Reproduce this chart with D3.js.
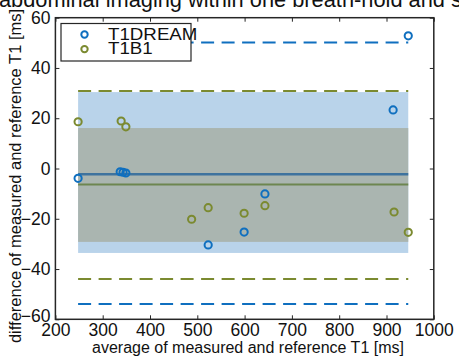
<!DOCTYPE html>
<html>
<head>
<meta charset="utf-8">
<script src="https://cdn.jsdelivr.net/npm/d3@7"></script>
<style>
  body { margin: 0; background: #fff; }
  text { font-family: "Liberation Sans", Arial, sans-serif; }
</style>
</head>
<body>
<svg id="chart" width="459" height="356"></svg>
<script>
// values
let seriesNames = ["T1DREAM", "T1B1"];
let avgDream = [248, 337, 343, 349, 523, 599, 643, 914, 946];
let diffDream = [-3.9, -1.3, -1.5, -1.8, -30.4, -25.3, -10.1, 23.3, 52.8];
let avgB1 = [248, 339, 349, 488, 523, 599, 643, 916, 946];
let diffB1 = [18.6, 18.9, 16.6, -20.2, -15.6, -17.8, -14.8, -17.3, -25.4];
let meanDiff = [-2.3, -6.4];
let limitsUpper = [50.1, 30.8];
let limitsLower = [-53.9, -44];
let bandUpper = [30.4, 16.1];
let bandLower = [-33.6, -29.2];
let lineSpan = [248, 946];
let xTicks = [200, 300, 400, 500, 600, 700, 800, 900, 1000];
let yTicks = [-60, -40, -20, 0, 20, 40, 60];

let colBlue = "#0f6fbf";
let colOlive = "#7b8a30";
let bandColors = ["#b9d3ea", "#aab5b0"];
let meanColors = ["#3e739e", "#6d8650"];

let svg = d3.select("#chart");
let mLeft = 55.4, mRight = 433.8, mTop = 17.7, mBottom = 319.3;

let x = d3.scaleLinear().domain([200, 1000]).range([mLeft, mRight]);
let y = d3.scaleLinear().domain([-60, 60]).range([mBottom, mTop]);

// cut-off caption line at the very top
svg.append("text")
  .attr("x", -1)
  .attr("y", 7)
  .style("font-size", "21.8px")
  .attr("fill", "#111")
  .text("abdominal imaging within one breath-hold and s");

let plot = svg.append("g");

// shaded bands
[0, 1].forEach(function (i) {
  plot.append("rect")
    .attr("x", x(lineSpan[0]))
    .attr("width", x(lineSpan[1]) - x(lineSpan[0]))
    .attr("y", y(bandUpper[i]))
    .attr("height", y(bandLower[i]) - y(bandUpper[i]))
    .attr("fill", bandColors[i]);
});

// limits of agreement (dashed)
let dashCols = [colBlue, colOlive];
[0, 1].forEach(function (i) {
  [limitsUpper[i], limitsLower[i]].forEach(function (v) {
    plot.append("line")
      .attr("x1", x(lineSpan[0]))
      .attr("x2", x(lineSpan[1]))
      .attr("y1", y(v))
      .attr("y2", y(v))
      .attr("stroke", dashCols[i])
      .attr("stroke-width", 2)
      .attr("stroke-dasharray", "13,7.5");
  });
});

// mean lines
[1, 0].forEach(function (i) {
  plot.append("line")
    .attr("x1", x(lineSpan[0]))
    .attr("x2", x(lineSpan[1]))
    .attr("y1", y(meanDiff[i]))
    .attr("y2", y(meanDiff[i]))
    .attr("stroke", meanColors[i])
    .attr("stroke-width", i == 0 ? 2.5 : 2);
});

// points
let pts = [
  { xs: avgB1, ys: diffB1, col: colOlive },
  { xs: avgDream, ys: diffDream, col: colBlue }
];
pts.forEach(function (s) {
  plot.selectAll(null)
    .data(s.xs)
    .enter()
    .append("circle")
    .attr("cx", function (d) { return x(d); })
    .attr("cy", function (d, i) { return y(s.ys[i]); })
    .attr("r", 3.6)
    .attr("fill", "none")
    .attr("stroke", s.col)
    .attr("stroke-width", 2);
});

// axes box with inward ticks
let axCol = "#262626";
let fmt = d3.format("d");
svg.append("g")
  .attr("transform", `translate(0,${mBottom})`)
  .call(d3.axisBottom(x).tickValues(xTicks).tickFormat(fmt).tickSizeInner(-4).tickSizeOuter(0).tickPadding(4))
  .call(function (g) {
    g.select(".domain").remove();
    g.selectAll("text").style("font-size", "17.5px").attr("fill", "#111");
    g.selectAll("line").attr("stroke", axCol);
  });
svg.append("g")
  .attr("transform", `translate(0,${mTop})`)
  .call(d3.axisTop(x).tickValues(xTicks).tickSizeInner(-4).tickSizeOuter(0).tickFormat(""))
  .call(function (g) {
    g.select(".domain").remove();
    g.selectAll("line").attr("stroke", axCol);
  });
svg.append("g")
  .attr("transform", `translate(${mLeft},0)`)
  .call(d3.axisLeft(y).tickValues(yTicks).tickFormat(fmt).tickSizeInner(-4).tickSizeOuter(0).tickPadding(5))
  .call(function (g) {
    g.select(".domain").remove();
    g.selectAll("text").style("font-size", "17.5px").attr("fill", "#111");
    // lowest label sits a touch higher, clear of "200"
    g.selectAll("text").filter(function (d) { return d == -60; }).attr("dy", "0.12em");
    g.selectAll("line").attr("stroke", axCol);
  });
svg.append("g")
  .attr("transform", `translate(${mRight},0)`)
  .call(d3.axisRight(y).tickValues(yTicks).tickSizeInner(-4).tickSizeOuter(0).tickFormat(""))
  .call(function (g) {
    g.select(".domain").remove();
    g.selectAll("line").attr("stroke", axCol);
  });
svg.append("rect")
  .attr("x", mLeft)
  .attr("y", mTop)
  .attr("width", mRight - mLeft)
  .attr("height", mBottom - mTop)
  .attr("fill", "none")
  .attr("stroke", axCol)
  .attr("stroke-width", 1.5);

// axis titles
svg.append("text")
  .attr("x", 248)
  .attr("y", 353)
  .attr("text-anchor", "middle")
  .style("font-size", "16px")
  .attr("fill", "#111")
  .text("average of measured and reference T1 [ms]");
svg.append("text")
  .attr("transform", "translate(21,176) rotate(-90)")
  .attr("text-anchor", "middle")
  .style("font-size", "16.5px")
  .attr("fill", "#111")
  .text("difference of measured and reference T1 [ms]");

// legend
let lg = svg.append("g").attr("transform", "translate(61,23.5)");
lg.append("rect")
  .attr("width", 130)
  .attr("height", 37.5)
  .attr("fill", "#fff")
  .attr("stroke", axCol)
  .attr("stroke-width", 1.2);
let legCols = [colBlue, colOlive];
seriesNames.forEach(function (name, i) {
  lg.append("circle")
    .attr("cx", 23.5)
    .attr("cy", 11 + i * 14.6)
    .attr("r", 3.2)
    .attr("fill", "none")
    .attr("stroke", legCols[i])
    .attr("stroke-width", 2);
  let t = lg.append("text")
    .attr("x", 47)
    .attr("y", 16.3 + i * 14.6)
    .style("font-size", "16px")
    .attr("fill", "#111")
    .text(name);
  // the original face runs a little wider than Liberation Sans
  t.attr("textLength", t.node().getComputedTextLength() * 1.17)
    .attr("lengthAdjust", "spacingAndGlyphs");
});
</script>
</body>
</html>
